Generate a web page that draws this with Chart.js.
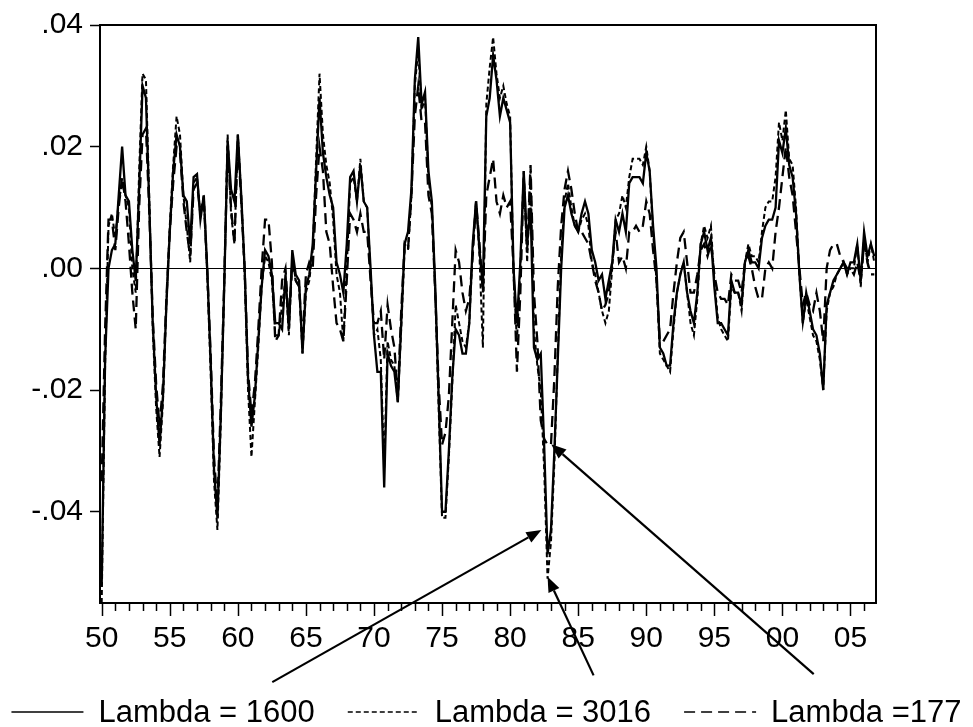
<!DOCTYPE html>
<html>
<head>
<meta charset="utf-8">
<script src="https://cdn.jsdelivr.net/npm/chart.js@4.4.1/dist/chart.umd.min.js"></script>
<style>
  html, body { margin: 0; padding: 0; background: #fff; }
  canvas { display: block; }
</style>
</head>
<body>
<canvas id="chart" width="973" height="727"></canvas>
<script>
/* ===== HP-filter cycles, quarterly 1950Q1-2006Q4 ===== */
const firstYear = 1950;

const lambda1600 = [
  -0.052,-0.015,0.000,0.003,0.004,0.012,0.020,0.012,0.011,0.003,
  -0.002,0.013,0.030,0.028,0.010,-0.009,-0.021,-0.029,-0.021,-0.006,
  0.006,0.016,0.022,0.020,0.012,0.011,0.004,0.015,0.0155,0.008,
  0.012,0.000,-0.015,-0.033,-0.041,-0.024,-0.003,0.021,0.013,0.011,
  0.022,0.012,0.000,-0.018,-0.026,-0.021,-0.012,-0.003,0.003,0.002,
  -0.001,-0.009,-0.009,-0.010,-0.001,-0.010,0.003,-0.001,-0.002,-0.014,
  -0.003,-0.001,0.004,0.016,0.028,0.019,0.015,0.012,0.010,0.001,
  -0.001,-0.004,0.004,0.015,0.016,0.011,0.017,0.011,0.010,0.000,
  -0.011,-0.017,-0.017,-0.036,-0.014,-0.016,-0.017,-0.022,-0.009,0.004,
  0.006,0.013,0.031,0.038,0.027,0.029,0.016,0.011,-0.003,-0.021,
  -0.040,-0.040,-0.030,-0.018,-0.010,-0.011,-0.014,-0.014,-0.009,0.004,
  0.011,0.003,-0.003,0.025,0.028,0.035,0.031,0.025,0.028,0.026,
  0.024,0.000,-0.009,0.001,0.016,0.004,0.010,-0.013,-0.015,-0.014,
  -0.029,-0.047,-0.043,-0.030,-0.015,0.000,0.010,0.012,0.009,0.007,
  0.006,0.009,0.011,0.009,0.003,0.001,-0.002,-0.001,-0.005,-0.002,
  0.001,0.008,0.006,0.009,0.006,0.014,0.015,0.015,0.015,0.014,
  0.019,0.016,0.007,0.000,-0.013,-0.014,-0.016,-0.016,-0.009,-0.004,
  -0.001,0.001,-0.004,-0.007,-0.009,-0.004,0.004,0.006,0.003,0.005,
  -0.003,-0.009,-0.009,-0.010,-0.011,-0.002,-0.004,-0.004,-0.006,0.001,
  0.003,0.001,0.001,0.000,0.005,0.007,0.008,0.008,0.010,0.021,
  0.019,0.023,0.017,0.015,0.009,-0.001,-0.009,-0.004,-0.007,-0.010,
  -0.011,-0.014,-0.020,-0.006,-0.004,-0.002,-0.001,0.000,0.001,-0.001,
  0.001,0.001,0.004,-0.002,0.006,0.002,0.004,0.002
];

const lambda3016 = [
  -0.055,-0.016,0.007,0.009,0.005,0.011,0.014,0.012,0.010,0.000,
  -0.004,0.016,0.032,0.031,0.011,-0.010,-0.023,-0.031,-0.022,-0.006,
  0.007,0.017,0.025,0.022,0.012,0.007,0.001,0.014,0.015,0.009,
  0.012,-0.001,-0.017,-0.035,-0.043,-0.025,-0.003,0.022,0.009,0.004,
  0.022,0.012,-0.001,-0.020,-0.031,-0.022,-0.013,-0.003,0.002,0.001,
  -0.002,-0.011,-0.011,-0.006,-0.002,-0.011,0.002,-0.002,-0.003,-0.014,
  -0.004,-0.002,0.003,0.018,0.032,0.022,0.017,0.014,0.008,-0.001,
  -0.004,-0.012,0.000,0.014,0.015,0.011,0.018,0.011,0.010,-0.001,
  -0.011,-0.010,-0.015,-0.033,-0.012,-0.015,-0.016,-0.022,-0.010,0.003,
  0.003,0.012,0.030,0.036,0.026,0.028,0.015,0.010,-0.004,-0.023,
  -0.041,-0.041,-0.031,-0.019,-0.006,-0.009,-0.012,-0.013,-0.009,0.003,
  0.011,0.002,-0.013,0.027,0.033,0.038,0.032,0.028,0.030,0.027,
  0.025,-0.001,-0.012,0.000,0.016,0.001,0.016,-0.010,-0.016,-0.020,
  -0.033,-0.051,-0.045,-0.032,-0.014,0.002,0.011,0.014,0.010,0.007,
  0.006,0.008,0.009,0.007,0.001,-0.001,-0.004,-0.007,-0.009,-0.007,
  0.000,0.008,0.009,0.012,0.010,0.015,0.018,0.018,0.018,0.017,
  0.020,0.016,0.006,-0.002,-0.014,-0.015,-0.016,-0.017,-0.010,-0.004,
  -0.001,0.001,-0.004,-0.009,-0.011,-0.005,0.004,0.007,0.005,0.007,
  -0.002,-0.008,-0.010,-0.011,-0.012,-0.003,-0.004,-0.004,-0.007,0.001,
  0.004,0.002,0.002,0.001,0.006,0.010,0.011,0.011,0.015,0.024,
  0.021,0.026,0.018,0.017,0.010,-0.001,-0.009,-0.005,-0.008,-0.011,
  -0.012,-0.015,-0.020,-0.007,-0.004,-0.003,-0.001,0.000,0.001,-0.001,
  0.000,0.000,0.004,-0.003,0.005,0.001,0.004,0.001
];

const lambda177 = [
  -0.035,-0.010,0.008,0.008,0.003,0.010,0.015,0.011,0.004,-0.004,
  -0.010,0.010,0.022,0.023,0.009,-0.008,-0.019,-0.026,-0.019,-0.005,
  0.006,0.014,0.020,0.019,0.011,0.006,0.002,0.013,0.014,0.009,
  0.011,0.000,-0.014,-0.031,-0.039,-0.022,-0.002,0.020,0.010,0.004,
  0.021,0.011,0.000,-0.017,-0.024,-0.019,-0.010,0.000,0.008,0.008,
  0.001,-0.012,-0.011,-0.002,0.000,-0.009,0.001,-0.002,-0.003,-0.012,
  -0.001,0.001,0.000,0.012,0.020,0.016,0.006,0.004,-0.003,-0.009,
  -0.010,-0.012,-0.002,0.009,0.008,0.006,0.009,0.006,0.006,-0.002,
  -0.009,-0.009,-0.007,-0.015,-0.006,-0.010,-0.013,-0.021,-0.007,0.004,
  0.003,0.012,0.025,0.030,0.024,0.024,0.012,0.009,-0.004,-0.019,
  -0.029,-0.027,-0.021,-0.009,0.003,0.001,-0.004,-0.007,-0.005,0.002,
  0.011,0.004,-0.004,0.012,0.015,0.018,0.011,0.009,0.012,0.010,
  0.011,0.000,-0.017,-0.004,0.015,0.003,0.017,-0.004,-0.012,-0.025,
  -0.028,-0.029,-0.029,-0.018,-0.003,0.007,0.013,0.016,0.013,0.009,
  0.006,0.006,0.005,0.004,0.001,-0.002,-0.004,-0.007,-0.006,-0.004,
  0.001,0.006,0.001,0.002,0.000,0.006,0.006,0.007,0.006,0.007,
  0.011,0.009,0.003,-0.002,-0.012,-0.012,-0.011,-0.010,-0.004,0.001,
  0.005,0.006,0.001,-0.004,-0.004,-0.001,0.003,0.004,0.002,0.004,
  -0.001,-0.004,-0.005,-0.005,-0.006,-0.001,-0.002,-0.002,-0.004,0.001,
  0.002,0.000,-0.003,-0.005,-0.005,0.000,0.001,0.000,0.006,0.010,
  0.015,0.020,0.015,0.012,0.006,0.000,-0.006,-0.004,-0.006,-0.007,
  -0.004,-0.007,-0.012,0.000,0.003,0.004,0.004,0.002,0.001,0.000,
  0.000,-0.001,0.001,-0.002,0.004,0.001,-0.001,-0.001
];

const seriesNames = ['Lambda = 1600', 'Lambda = 3016', 'Lambda =177'];
const seriesDash = [[], [5, 3], [11, 6]];

const xTickYears = [1950, 1955, 1960, 1965, 1970, 1975, 1980, 1985, 1990, 1995, 2000, 2005];
const xTickLabels = ['50', '55', '60', '65', '70', '75', '80', '85', '90', '95', '00', '05'];
const yTickValues = [-0.04, -0.02, 0, 0.02, 0.04];
const yTickLabels = ['-.04', '-.02', '.00', '.02', '.04'];

// arrows pointing at the 1982 trough, [year, value]
const arrowTails = [[1962.53, -0.068], [1986.13, -0.0669], [2002.3, -0.0667]];
const arrowTips  = [[1982.3, -0.043], [1982.75, -0.0507], [1983.02, -0.0289]];

const FONT = "'Liberation Sans', Arial, sans-serif";

const quarters = lambda1600.map((_, i) => firstYear + i / 4);
const toPoints = arr => arr.map((v, i) => ({ x: quarters[i], y: v }));

const frame = {
  id: 'frame',
  beforeDraw(chart) {
    const { ctx, width, height } = chart;
    ctx.save();
    ctx.fillStyle = '#fff';
    ctx.fillRect(0, 0, width, height);
    ctx.restore();
  },
  afterDraw(chart) {
    const { ctx, chartArea: a, scales: { x, y } } = chart;
    ctx.save();
    ctx.strokeStyle = '#000';
    ctx.fillStyle = '#000';

    // box
    ctx.lineWidth = 2;
    ctx.strokeRect(a.left, a.top, a.right - a.left, a.bottom - a.top);

    // yearly ticks, longer every 5 years
    ctx.lineWidth = 1.5;
    const lastYear = Math.floor(quarters[quarters.length - 1]);
    for (let yr = firstYear; yr <= lastYear; yr++) {
      const px = Math.round(x.getPixelForValue(yr)) + 0.5;
      const len = xTickYears.includes(yr) ? 13 : 8;
      ctx.beginPath();
      ctx.moveTo(px, a.bottom);
      ctx.lineTo(px, a.bottom + len);
      ctx.stroke();
    }

    // arrows
    ctx.lineWidth = 2.2;
    arrowTails.forEach((t, k) => {
      const x0 = x.getPixelForValue(t[0]), y0 = y.getPixelForValue(t[1]);
      const x1 = x.getPixelForValue(arrowTips[k][0]), y1 = y.getPixelForValue(arrowTips[k][1]);
      const ang = Math.atan2(y1 - y0, x1 - x0);
      const hl = 15, hw = 6;
      const bx = x1 - hl * Math.cos(ang), by = y1 - hl * Math.sin(ang);
      ctx.beginPath();
      ctx.moveTo(x0, y0);
      ctx.lineTo(bx, by);
      ctx.stroke();
      ctx.beginPath();
      ctx.moveTo(x1, y1);
      ctx.lineTo(bx - hw * Math.sin(ang), by + hw * Math.cos(ang));
      ctx.lineTo(bx + hw * Math.sin(ang), by - hw * Math.cos(ang));
      ctx.closePath();
      ctx.fill();
    });

    // legend
    ctx.font = '31px ' + FONT;
    ctx.textBaseline = 'alphabetic';
    const boxW = 72, gap = 15, pad = 33, baseY = 722;
    const widths = seriesNames.map(s => boxW + gap + ctx.measureText(s).width);
    const total = widths.reduce((s, w) => s + w, 0) + pad * (widths.length - 1);
    let lx = (chart.width - total) / 2;
    chart.data.datasets.forEach((ds, k) => {
      ctx.lineWidth = 1.5;
      ctx.setLineDash(ds.borderDash || []);
      ctx.beginPath();
      ctx.moveTo(lx, baseY - 10);
      ctx.lineTo(lx + boxW, baseY - 10);
      ctx.stroke();
      ctx.setLineDash([]);
      ctx.fillText(ds.label, lx + boxW + gap, baseY);
      lx += widths[k] + pad;
    });
    ctx.restore();
  }
};

new Chart(document.getElementById('chart'), {
  type: 'line',
  data: {
    datasets: [
      { label: seriesNames[0], data: toPoints(lambda1600), borderColor: '#000', borderWidth: 2.3, borderDash: seriesDash[0] },
      { label: seriesNames[1], data: toPoints(lambda3016), borderColor: '#000', borderWidth: 2, borderDash: seriesDash[1] },
      { label: seriesNames[2], data: toPoints(lambda177), borderColor: '#000', borderWidth: 2.3, borderDash: seriesDash[2] }
    ]
  },
  options: {
    responsive: false,
    animation: false,
    devicePixelRatio: 1,
    layout: { padding: { top: 25, right: 97, left: 0, bottom: 0 } },
    elements: { point: { radius: 0 }, line: { tension: 0, borderCapStyle: 'butt', borderJoinStyle: 'miter' } },
    plugins: { legend: { display: false }, tooltip: { enabled: false } },
    scales: {
      x: {
        type: 'linear',
        min: 1949.875,
        max: 2006.875,
        afterBuildTicks: s => { s.ticks = xTickYears.map(v => ({ value: v })); },
        afterFit: s => { s.height = 124; },
        ticks: { autoSkip: false, maxRotation: 0, padding: 10, color: '#000', font: { family: FONT, size: 30 },
                 callback: (v, k) => xTickLabels[k] },
        grid: { display: false },
        border: { display: false }
      },
      y: {
        min: -0.055,
        max: 0.04,
        afterBuildTicks: s => { s.ticks = yTickValues.map(v => ({ value: v })); },
        afterFit: s => { s.width = 100; },
        ticks: { padding: 7, color: '#000', font: { family: FONT, size: 30 },
                 callback: (v, k) => yTickLabels[k] },
        grid: { color: c => (c.tick && c.tick.value === 0) ? '#000' : 'rgba(0,0,0,0)', lineWidth: 1,
                tickColor: '#000', tickLength: 10, tickWidth: 1.5 },
        border: { display: false }
      }
    }
  },
  plugins: [frame]
});
</script>
</body>
</html>
